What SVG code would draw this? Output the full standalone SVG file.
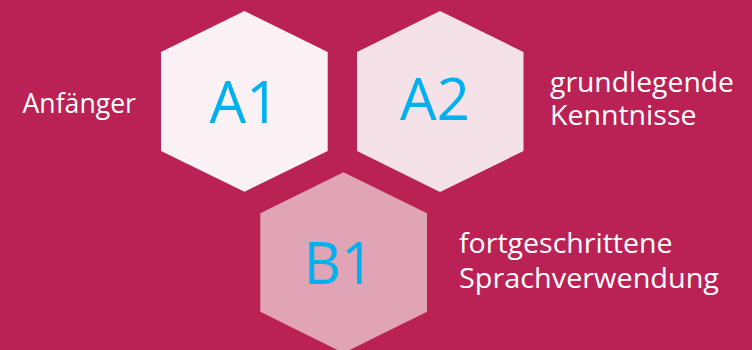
<svg xmlns="http://www.w3.org/2000/svg" width="752" height="350" viewBox="0 0 752 350">
<style>
.bg{fill:#BA2255}
.big{font-family:"Open Sans","Noto Sans",sans-serif;font-size:58px;fill:#00B0F0;text-anchor:middle}
.lbl{font-family:"Open Sans","Noto Sans",sans-serif;font-size:27px;fill:#FFFFFF}
</style>
<rect class="bg" x="0" y="0" width="752" height="350"/>
<g id="node-A1">
<polygon points="244.5,11 327.7,52 327.7,151 244.5,191.7 161,151 161,52" fill="#FCF2F5"/>
<text class="big" x="244.5" y="123">A1</text>
</g>
<g id="node-A2">
<polygon points="440,11 523.5,52 523.5,151 440,192 357,151 357,52" fill="#F5E2E8"/>
<text class="big" x="435" y="120">A2</text>
</g>
<g id="node-B1">
<polygon points="343.5,172.3 427,213.3 427,311.7 343.5,353 260.3,311.7 260.3,213.3" fill="#E0A4B6"/>
<text class="big" x="339" y="284">B1</text>
</g>
<g id="label-A1">
<text class="lbl" x="22.5" y="113" textLength="113.5" lengthAdjust="spacingAndGlyphs">Anfänger</text>
</g>
<g id="label-A2">
<text class="lbl" x="550" y="91.5" textLength="184" lengthAdjust="spacingAndGlyphs">grundlegende</text>
<text class="lbl" x="550" y="125" textLength="146.5" lengthAdjust="spacingAndGlyphs">Kenntnisse</text>
</g>
<g id="label-B1">
<text class="lbl" x="459" y="253" textLength="213.5" lengthAdjust="spacingAndGlyphs">fortgeschrittene</text>
<text class="lbl" x="459" y="288" textLength="260" lengthAdjust="spacingAndGlyphs">Sprachverwendung</text>
</g>
<g id="connectors"></g>
</svg>
